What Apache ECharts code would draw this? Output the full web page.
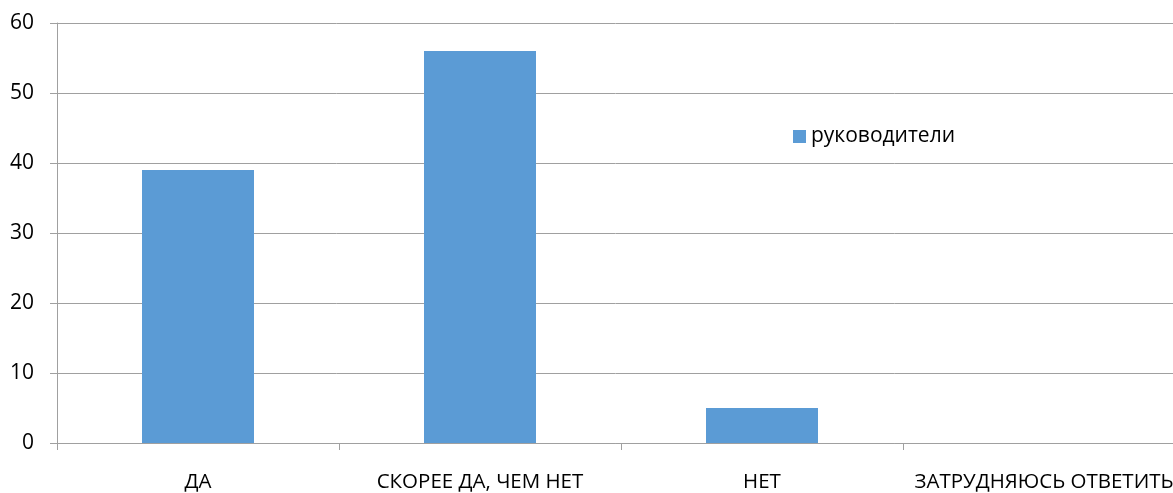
<!DOCTYPE html>
<html><head><meta charset="utf-8">
<script src="https://cdn.jsdelivr.net/npm/echarts@6/dist/echarts.min.js"></script>
<style>html,body{margin:0;padding:0;background:#fff}#c{width:1173px;height:493px}</style>
</head><body><div id="c"></div>
<script>
const categories = ['ДА', 'СКОРЕЕ ДА, ЧЕМ НЕТ', 'НЕТ', 'ЗАТРУДНЯЮСЬ ОТВЕТИТЬ'];
const seriesName = 'руководители';
const values = [39, 56, 5, 0];
const font = 'Open Sans';
const chart = echarts.init(document.getElementById('c'));
chart.setOption({
  animation: false,
  grid: { left: 57, width: 1128, top: 23, bottom: 50, containLabel: false, outerBoundsMode: 'none' },
  legend: {
    left: 788, top: 121, itemWidth: 13, itemHeight: 13, itemGap: 6,
    icon: 'rect',
    textStyle: { fontFamily: font, fontSize: 21, color: '#000' },
    data: [seriesName]
  },
  xAxis: {
    type: 'category', data: categories,
    axisLine: { lineStyle: { color: '#a0a0a0', width: 1 } },
    axisTick: { show: true, length: 7, lineStyle: { color: '#a0a0a0' } },
    axisLabel: { color: '#000', fontFamily: font, fontSize: 20.5, margin: 29, interval: 0 }
  },
  yAxis: {
    type: 'value', min: 0, max: 60, interval: 10,
    axisLine: { show: true, lineStyle: { color: '#a0a0a0', width: 1 } },
    axisTick: { show: true, length: 7, lineStyle: { color: '#a0a0a0' } },
    splitLine: { lineStyle: { color: '#a0a0a0', width: 1 } },
    axisLabel: { color: '#000', fontFamily: font, fontSize: 21, margin: 23 }
  },
  series: [{
    name: seriesName, type: 'bar', data: values, barWidth: 112,
    itemStyle: { color: '#5b9bd5' }
  }]
});
</script></body></html>
